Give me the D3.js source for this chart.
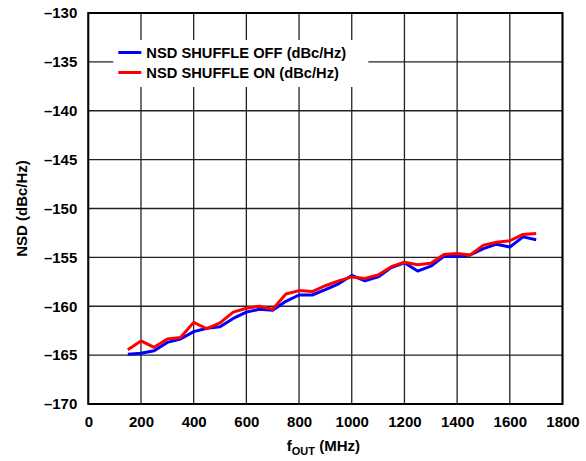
<!DOCTYPE html>
<html>
<head>
<meta charset="utf-8">
<script src="https://cdn.jsdelivr.net/npm/d3@7"></script>
<style>
  body { margin: 0; background: #fff; }
  text { font-family: "Liberation Sans", Arial, sans-serif; font-weight: bold; fill: #000; }
</style>
</head>
<body>
<div id="chart"></div>
<script>
// frequency points (MHz)
const freqs = [150, 200, 250, 300, 350, 400, 450, 500, 550, 600, 650, 700, 750, 800, 850, 900,
               950, 1000, 1050, 1100, 1150, 1200, 1250, 1300, 1350, 1400, 1450, 1500, 1550, 1600, 1650, 1700];

// NSD values (dBc/Hz)
const shuffleOff = [-164.9, -164.8, -164.55, -163.7, -163.35, -162.6, -162.25, -162.1, -161.25, -160.6, -160.3, -160.4,
                    -159.5, -158.85, -158.85, -158.3, -157.7, -156.85, -157.4, -157.0, -156.05, -155.55, -156.4, -155.9,
                    -154.9, -154.9, -154.75, -154.1, -153.65, -153.95, -152.9, -153.2];
const shuffleOn = [-164.45, -163.55, -164.2, -163.35, -163.2, -161.65, -162.3, -161.7, -160.6, -160.2, -160.0, -160.3,
                   -158.75, -158.4, -158.5, -157.9, -157.4, -157.0, -157.15, -156.8, -155.95, -155.5, -155.75, -155.6,
                   -154.7, -154.6, -154.75, -153.75, -153.45, -153.3, -152.65, -152.55];

const xTicks = [0, 200, 400, 600, 800, 1000, 1200, 1400, 1600, 1800];
const yTicks = [-130, -135, -140, -145, -150, -155, -160, -165, -170];

const seriesNames = ["NSD SHUFFLE OFF (dBc/Hz)", "NSD SHUFFLE ON (dBc/Hz)"];
const seriesColors = ["#0000ff", "#ff0000"];

const W = 586, H = 461;
const margin = { top: 13, right: 23.5, bottom: 57, left: 88.3 };
const width = W - margin.left - margin.right;
const height = H - margin.top - margin.bottom;

const svg = d3.select("#chart").append("svg")
    .attr("width", W)
    .attr("height", H);

const g = svg.append("g")
    .attr("transform", `translate(${margin.left},${margin.top})`);

const x = d3.scaleLinear().domain([0, 1800]).range([0, width]);
const y = d3.scaleLinear().domain([-170, -130]).range([height, 0]);

const fmt = v => (v < 0 ? "\u2013" + Math.abs(v) : String(v));

// grid
g.append("g")
    .selectAll("line.vgrid")
    .data(xTicks)
    .enter().append("line")
    .attr("x1", d => x(d)).attr("x2", d => x(d))
    .attr("y1", 0).attr("y2", height)
    .attr("stroke", "#222").attr("stroke-width", 1.3);

g.append("g")
    .selectAll("line.hgrid")
    .data(yTicks)
    .enter().append("line")
    .attr("x1", 0).attr("x2", width)
    .attr("y1", d => y(d)).attr("y2", d => y(d))
    .attr("stroke", "#222").attr("stroke-width", 1.3);

// legend background hides grid under it
const legend = g.append("g").attr("transform", "translate(25,27)");
legend.append("rect")
    .attr("x", 0).attr("y", 0)
    .attr("width", 255).attr("height", 47)
    .attr("fill", "#fff");

// frame
g.append("rect")
    .attr("width", width).attr("height", height)
    .attr("fill", "none")
    .attr("stroke", "#000").attr("stroke-width", 2);

// axis labels
g.append("g")
    .attr("transform", `translate(0,${height})`)
    .call(d3.axisBottom(x).tickValues(xTicks).tickSize(0).tickPadding(12).tickFormat(fmt))
    .call(a => a.select(".domain").remove())
    .selectAll("text")
    .style("font-size", "15px")
    .style("font-family", "Liberation Sans, Arial, sans-serif")
    .style("font-weight", "bold");

g.append("g")
    .call(d3.axisLeft(y).tickValues(yTicks).tickSize(0).tickPadding(11).tickFormat(fmt))
    .call(a => a.select(".domain").remove())
    .selectAll("text")
    .style("font-size", "15px")
    .style("font-family", "Liberation Sans, Arial, sans-serif")
    .style("font-weight", "bold");

// lines
const line = d3.line()
    .x((d, i) => x(freqs[i]))
    .y(d => y(d));

[shuffleOff, shuffleOn].forEach((vals, k) => {
    g.append("path")
        .datum(vals)
        .attr("d", line)
        .attr("fill", "none")
        .attr("stroke", seriesColors[k])
        .attr("stroke-width", 3)
        .attr("stroke-linejoin", "round");
});

// legend entries
seriesNames.forEach((name, i) => {
    const ly = 12.5 + i * 20;
    legend.append("line")
        .attr("x1", 5).attr("x2", 28)
        .attr("y1", ly).attr("y2", ly)
        .attr("stroke", seriesColors[i]).attr("stroke-width", 3);
    legend.append("text")
        .attr("x", 33).attr("y", ly + 5)
        .style("font-size", "14.7px")
        .text(name);
});

// axis titles
const xt = svg.append("text")
    .attr("x", margin.left + width / 2 - 2)
    .attr("y", 451)
    .attr("text-anchor", "middle")
    .style("font-size", "15px");
xt.append("tspan").text("f");
xt.append("tspan").attr("dy", 4).style("font-size", "11px").text("OUT");
xt.append("tspan").attr("dy", -4).text(" (MHz)");

svg.append("text")
    .attr("transform", `translate(27,${margin.top + height / 2}) rotate(-90)`)
    .attr("text-anchor", "middle")
    .style("font-size", "15px")
    .text("NSD (dBc/Hz)");
</script>
</body>
</html>
